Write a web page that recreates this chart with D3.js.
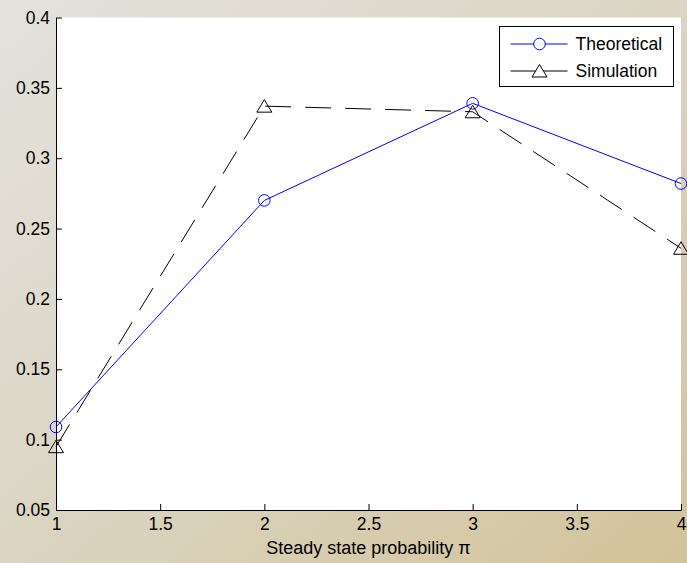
<!DOCTYPE html>
<meta charset="utf-8">
<html>
<script src="https://d3js.org/d3.v7.min.js"></script>
<style>
  body { margin: 0; padding: 0; overflow: hidden; }
  text { font-family: "Liberation Sans", Arial, Helvetica, sans-serif; }
</style>
<body>
<div id="myKeeper"></div>
<script>

    // data
    const states = [1, 2, 3, 4];
    const theoretical = [0.109, 0.270, 0.339, 0.282];
    const simulation = [0.095, 0.337, 0.333, 0.236];
    const xTicks = [1, 1.5, 2, 2.5, 3, 3.5, 4];
    const yTicks = [0.05, 0.1, 0.15, 0.2, 0.25, 0.3, 0.35, 0.4];
    const seriesNames = ["Theoretical", "Simulation"];

    const W = 687, H = 563;
    const margin = {top: 17.5, right: 6, bottom: 53, left: 56},
        width = W - margin.left - margin.right,
        height = H - margin.top - margin.bottom;

    const root = d3.select("#myKeeper")
      .append("svg")
        .attr("width", W)
        .attr("height", H);

    // beige gradient background
    const grad = root.append("defs").append("linearGradient")
        .attr("id", "bg")
        .attr("x1", "0%").attr("y1", "0%")
        .attr("x2", "100%").attr("y2", "100%");
    grad.append("stop").attr("offset", "0%").attr("stop-color", "#e4e2dd");
    grad.append("stop").attr("offset", "45%").attr("stop-color", "#dcd6c6");
    grad.append("stop").attr("offset", "100%").attr("stop-color", "#d2c399");
    root.append("rect").attr("width", W).attr("height", H).attr("fill", "url(#bg)");

    const svg = root.append("g")
        .attr("transform", `translate(${margin.left}, ${margin.top})`);

    svg.append("rect")
      .attr("width", width)
      .attr("height", height)
      .attr("fill", "white");

    const x = d3.scaleLinear().domain([1, 4]).range([0, width]);
    const y = d3.scaleLinear().domain([0.05, 0.4]).range([height, 0]);

    // x axis (ticks inward)
    const xAxis = svg.append("g")
      .attr("transform", `translate(0, ${height})`)
      .call(d3.axisBottom(x).tickValues(xTicks).tickSizeInner(-6).tickSizeOuter(0)
        .tickPadding(8).tickFormat(d3.format("")));
    xAxis.selectAll("text").attr("font-size", "17.5px").attr("fill", "#000")
      .attr("font-family", "Liberation Sans, Arial, sans-serif");
    xAxis.select(".domain").attr("stroke", "#000");

    // y axis
    const yAxis = svg.append("g")
      .call(d3.axisLeft(y).tickValues(yTicks).tickSizeInner(-6).tickSizeOuter(0)
        .tickPadding(6).tickFormat(d3.format("")));
    yAxis.selectAll("text").attr("font-size", "17.5px").attr("fill", "#000")
      .attr("font-family", "Liberation Sans, Arial, sans-serif");
    yAxis.select(".domain").attr("stroke", "#000");

    // x label
    svg.append("text")
      .attr("x", x(2.5))
      .attr("y", height + 44)
      .attr("text-anchor", "middle")
      .attr("font-size", "18px")
      .text("Steady state probability π");

    const line = d3.line().x((d, i) => x(states[i])).y(d => y(d));
    const triPath = "M0,-6.5L7.5,6L-7.5,6Z";

    // simulation
    svg.append("path")
      .datum(simulation)
      .attr("d", line)
      .attr("fill", "none")
      .attr("stroke", "#000")
      .attr("stroke-width", 1)
      .attr("stroke-dasharray", "26,14");
    svg.selectAll(".tri")
      .data(simulation)
      .join("path")
        .attr("class", "tri")
        .attr("transform", (d, i) => `translate(${x(states[i])}, ${y(d)})`)
        .attr("d", triPath)
        .attr("fill", "none")
        .attr("stroke", "#000");

    // theoretical
    svg.append("path")
      .datum(theoretical)
      .attr("d", line)
      .attr("fill", "none")
      .attr("stroke", "#0000ff")
      .attr("stroke-width", 1);
    svg.selectAll(".circ")
      .data(theoretical)
      .join("circle")
        .attr("class", "circ")
        .attr("cx", (d, i) => x(states[i]))
        .attr("cy", d => y(d))
        .attr("r", 5.8)
        .attr("fill", "none")
        .attr("stroke", "#0000ff");

    // legend
    const lg = root.append("g").attr("transform", "translate(499.5, 26.5)");
    lg.append("rect")
      .attr("width", 174).attr("height", 60)
      .attr("fill", "white").attr("stroke", "#000");
    const colors = ["#0000ff", "#000"];
    seriesNames.forEach((name, i) => {
      const ly = 17.5 + i * 27;
      lg.append("line").attr("x1", 11).attr("x2", 68).attr("y1", ly).attr("y2", ly)
        .attr("stroke", colors[i]);
      if (i == 0) {
        lg.append("circle").attr("cx", 40).attr("cy", ly).attr("r", 5.8)
          .attr("fill", "white").attr("stroke", colors[i]);
      } else {
        lg.append("path").attr("d", triPath).attr("transform", `translate(40, ${ly})`)
          .attr("fill", "white").attr("stroke", colors[i]);
      }
      lg.append("text").attr("x", 76).attr("y", ly + 6)
        .attr("font-size", "17.5px").text(name);
    });

</script>
</body>
</html>
